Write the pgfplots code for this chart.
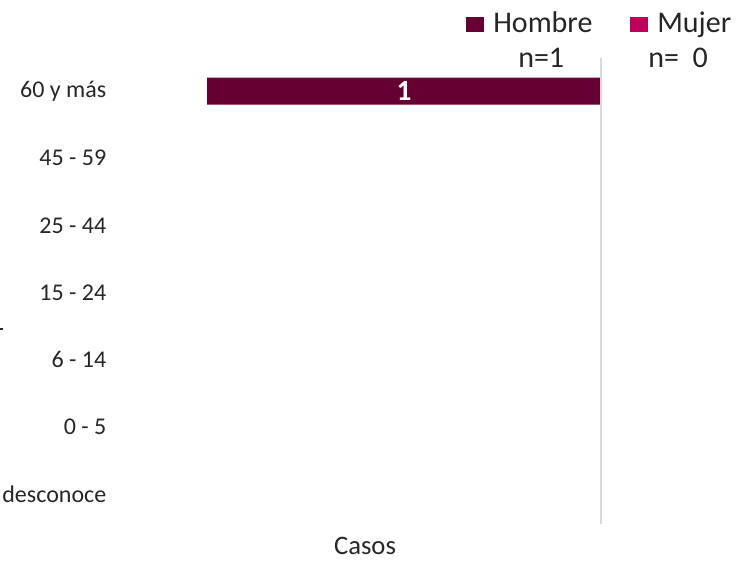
\documentclass[border=0pt]{standalone}
\usepackage{fontspec}
\setmainfont{Carlito}
\usepackage{pgfplots}
\pgfplotsset{compat=1.18}

\definecolor{hombre}{HTML}{660033}
\definecolor{mujer}{HTML}{BE005A}
\definecolor{eje}{HTML}{D9D9D9}

\begin{document}
\begin{tikzpicture}[x=0.75pt,y=-0.75pt]
\useasboundingbox (0,0) rectangle (740,561);

\begin{axis}[
  at={(86.25pt,-43.125pt)}, anchor=north west,
  scale only axis,
  width=375pt, height=352.5pt,
  xmin=-1.2335, xmax=0.0355,
  ymin=-0.5, ymax=6.5,
  y dir=reverse,
  axis line style={draw=none},
  tick style={draw=none},
  xtick=\empty,
  ytick={0,...,6},
  yticklabels={60 y más, 45 - 59, 25 - 44, 15 - 24, 6 - 14, 0 - 5, Se desconoce},
  yticklabel style={font=\fontsize{18}{20}\selectfont, text=black!85, xshift=-3pt},
  xlabel={Casos},
  xlabel style={at={(axis description cs:0.5,0)}, anchor=base, yshift=-20.6pt,
    font=\fontsize{20}{22}\selectfont, text=black!85},
  clip=false,
]
% Hombre (a la izquierda, valores negativos)
\addplot[xbar, bar width=20.25pt, bar shift=0pt, fill=hombre, draw=none]
  coordinates {(-1,0) (0,1) (0,2) (0,3) (0,4) (0,5) (0,6)};
% Mujer
\addplot[xbar, bar width=20.25pt, bar shift=0pt, fill=mujer, draw=none]
  coordinates {(0,0) (0,1) (0,2) (0,3) (0,4) (0,5) (0,6)};
% etiqueta del valor
\addplot[draw=none, mark=none, nodes near coords, point meta=explicit symbolic,
  every node near coord/.style={anchor=center, text=white,
    font=\fontsize{22}{24}\selectfont\bfseries}]
  coordinates {(-0.5,0) [1]};
% eje central
\draw[eje, line width=1.5pt] (axis cs:0,-0.5) -- (axis cs:0,6.45);
\end{axis}

% leyenda
\fill[hombre] (466,17) rectangle (484,32);
\node[anchor=base west, inner sep=0pt, font=\fontsize{22.5}{25}\selectfont, text=black!85]
  at (493,32) {Hombre};
\fill[mujer] (630,17) rectangle (648,32);
\node[anchor=base west, inner sep=0pt, font=\fontsize{22.5}{25}\selectfont, text=black!85]
  at (657,32) {Mujer};
\node[anchor=base west, inner sep=0pt, font=\fontsize{22.5}{25}\selectfont, text=black!85]
  at (518,67) {n=1};
\node[anchor=base west, inner sep=0pt, font=\fontsize{22.5}{25}\selectfont, text=black!85]
  at (648,67) {n=\ \ 0};
% resto del título del eje recortado
\draw[black!85, line width=0.8pt] (0,329) -- (3,329);
\end{tikzpicture}
\end{document}
